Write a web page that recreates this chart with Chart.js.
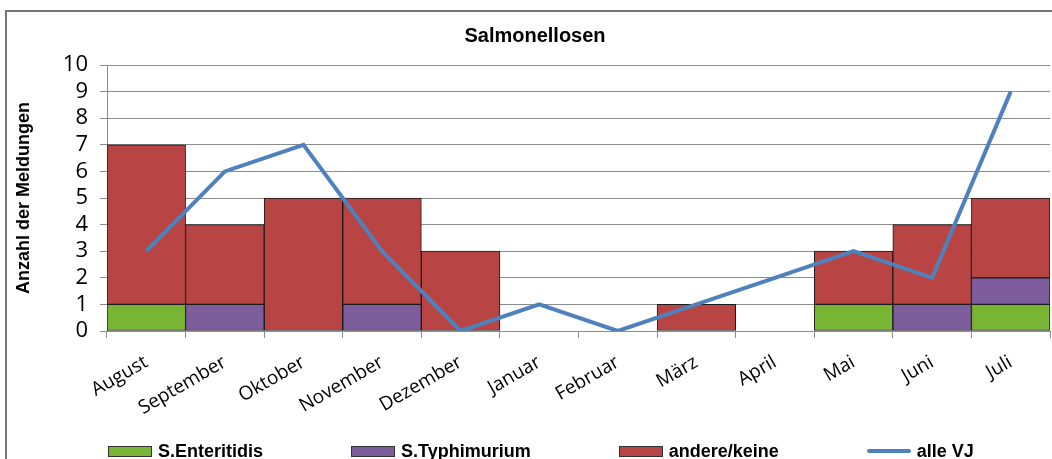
<!DOCTYPE html>
<html>
<head>
<meta charset="utf-8">
<script src="https://cdn.jsdelivr.net/npm/chart.js@4"></script>
<style>
    html, body { margin: 0; padding: 0; background: #fff; overflow: hidden; width: 1052px; height: 459px; }
    #frame { position: absolute; left: 5px; top: 10px; width: 1100px; height: 500px; border: 2px solid #767676; }
    #wrap { position: absolute; left: 6px; top: 11px; width: 1058px; height: 480px; }
    #legend { position: absolute; left: 108px; top: 441px; display: flex; gap: 88px;
              font: bold 18px "Liberation Sans", Arial, sans-serif; line-height: 20px; white-space: nowrap; }
    .item { display: flex; align-items: center; }
    .box { width: 42px; height: 9px; border: 1px solid #333; margin-right: 6px; }
    .line { width: 44px; height: 4px; border-radius: 2px; margin-right: 6px; }
</style>
</head>
<body>
<div id="frame"></div>
<div id="wrap"><canvas id="chart"></canvas></div>
<div id="legend"></div>
<script>
const months = ['August', 'September', 'Oktober', 'November', 'Dezember', 'Januar', 'Februar', 'März', 'April', 'Mai', 'Juni', 'Juli'];
const enteritidis = [1, 0, 0, 0, 0, 0, 0, 0, 0, 1, 0, 1];
const typhimurium = [0, 1, 0, 1, 0, 0, 0, 0, 0, 0, 1, 1];
const andere = [6, 3, 5, 4, 3, 0, 0, 1, 0, 2, 3, 3];
const alleVJ = [3, 6, 7, 3, 0, 1, 0, 1, 2, 3, 2, 9];

const gridColor = '#8c8c8c';

function barSet(label, data, color) {
    return {
        type: 'bar',
        label: label,
        data: data,
        backgroundColor: color,
        borderColor: '#1a1a1a',
        borderWidth: 1,
        borderSkipped: false,
        stack: 'bars',
        order: 1,
        categoryPercentage: 1.0,
        barPercentage: 1.0
    };
}

const datasets = [
    barSet('S.Enteritidis', enteritidis, '#79b535'),
    barSet('S.Typhimurium', typhimurium, '#7d5d9b'),
    barSet('andere/keine', andere, '#b84443'),
    {
        type: 'line',
        label: 'alle VJ',
        data: alleVJ,
        borderColor: '#4f81bd',
        backgroundColor: '#4f81bd',
        borderWidth: 4,
        pointRadius: 0,
        tension: 0,
        stack: 'line',
        order: 0
    }
];

new Chart(document.getElementById('chart'), {
    data: { labels: months, datasets: datasets },
    options: {
        responsive: true,
        maintainAspectRatio: false,
        animation: false,
        layout: { padding: { left: 14, right: 14, top: 0, bottom: 70 } },
        plugins: {
            legend: { display: false },
            tooltip: { enabled: false },
            title: {
                display: true,
                text: 'Salmonellosen',
                color: '#000',
                font: { family: '"Liberation Sans", Arial, sans-serif', size: 20, weight: 'bold', lineHeight: 1.2 },
                padding: { top: 13, bottom: 17 }
            }
        },
        scales: {
            x: {
                stacked: true,
                offset: true,
                afterFit: function(scale) { scale.height = 90; },
                grid: { offset: true, drawOnChartArea: false, color: gridColor, tickLength: 7 },
                border: { color: gridColor },
                ticks: {
                    color: '#000',
                    minRotation: 30,
                    maxRotation: 30,
                    autoSkip: false,
                    padding: 13,
                    font: { family: '"Open Sans", sans-serif', size: 19 }
                }
            },
            y: {
                stacked: true,
                min: 0,
                max: 10,
                afterFit: function(scale) { scale.width = 87; },
                grid: { color: gridColor, tickLength: 7 },
                border: { color: gridColor },
                ticks: {
                    stepSize: 1,
                    autoSkip: false,
                    color: '#000',
                    padding: 12,
                    font: { family: '"Open Sans", sans-serif', size: 22, lineHeight: 1 }
                },
                title: {
                    display: true,
                    text: 'Anzahl der Meldungen',
                    color: '#000',
                    padding: { top: -5, bottom: 0 },
                    font: { family: '"Liberation Sans", Arial, sans-serif', size: 18, weight: 'bold', lineHeight: 1 }
                }
            }
        }
    }
});

// legend drawn as html below the chart
const legend = document.getElementById('legend');
datasets.forEach(ds => {
    const item = document.createElement('div');
    item.className = 'item';
    const sw = document.createElement('span');
    sw.className = ds.type === 'line' ? 'line' : 'box';
    sw.style.background = ds.type === 'line' ? ds.borderColor : ds.backgroundColor;
    const txt = document.createElement('span');
    txt.textContent = ds.label;
    item.appendChild(sw);
    item.appendChild(txt);
    legend.appendChild(item);
});
</script>
</body>
</html>
